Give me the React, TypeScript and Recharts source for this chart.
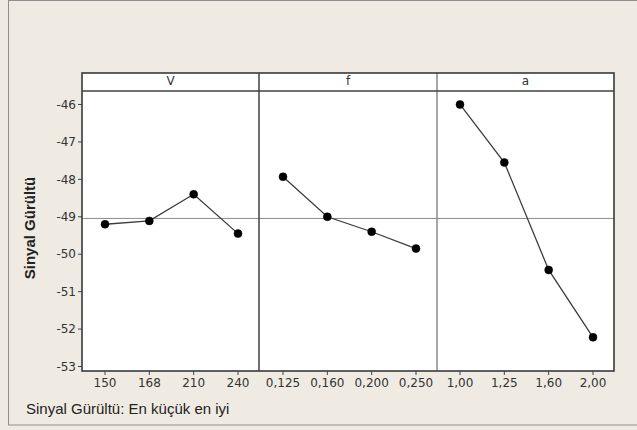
import React from 'react';
import { LineChart, Line, XAxis, YAxis, ReferenceLine } from 'recharts';

// Factor levels (tick labels) for each panel
const levelsV = ['150', '168', '210', '240'];
const levelsF = ['0,125', '0,160', '0,200', '0,250'];
const levelsA = ['1,00', '1,25', '1,60', '2,00'];

// Mean S/N ratio at each level
const snV = [-49.2, -49.11, -48.4, -49.45];
const snF = [-47.93, -49.0, -49.4, -49.85];
const snA = [-46.0, -47.55, -50.42, -52.22];

const factorNames = ['V', 'f', 'a'];
const yTicks = [-53, -52, -51, -50, -49, -48, -47, -46];
const yDomain: [number, number] = [-53.12, -45.64];

const allValues = [...snV, ...snF, ...snA];
const overallMean = allValues.reduce((s, v) => s + v, 0) / allValues.length;

const TICK_FONT = '"DejaVu Sans", Verdana, sans-serif';
const LABEL_FONT = '"Liberation Sans", Arial, sans-serif';

const PLOT_TOP = 91;
const PLOT_BOTTOM = 371;
const PANEL_X = [82, 259, 437, 614];

type PanelProps = {
  levels: string[];
  values: number[];
  index: number;
};

function Panel({ levels, values, index }: PanelProps) {
  const data = levels.map((level, i) => ({ level, sn: values[i] }));
  const showY = index === 0;
  const plotLeft = PANEL_X[index];
  const plotRight = PANEL_X[index + 1];
  const chartLeft = showY ? 0 : plotLeft;
  const width = plotRight - chartLeft;
  return (
    <div style={{ position: 'absolute', left: chartLeft, top: 0 }}>
      <LineChart
        width={width}
        height={430}
        data={data}
        margin={{ top: PLOT_TOP, right: 0, bottom: 29, left: showY ? 42 : 0 }}
      >
        <XAxis
          dataKey="level"
          type="category"
          height={30}
          padding={{ left: index === 1 ? 24 : 23, right: 21 }}
          axisLine={false}
          tickLine={{ stroke: '#444', strokeWidth: 1 }}
          tickSize={4}
          tickMargin={3}
          interval={0}
          tick={{ fill: '#333', fontSize: 12, fontFamily: TICK_FONT }}
        />
        <YAxis
          type="number"
          domain={yDomain}
          ticks={yTicks}
          allowDataOverflow
          hide={!showY}
          width={40}
          axisLine={false}
          tickLine={{ stroke: '#444', strokeWidth: 1 }}
          tickSize={4}
          tickMargin={2}
          tick={{ fill: '#333', fontSize: 12, fontFamily: TICK_FONT }}
        />
        <ReferenceLine y={overallMean} stroke="#8c8c8c" strokeWidth={1} />
        <Line
          type="linear"
          dataKey="sn"
          stroke="#3c3c3c"
          strokeWidth={1.3}
          dot={{ r: 4, fill: '#000', stroke: '#000', strokeWidth: 0.5 }}
          isAnimationActive={false}
        />
      </LineChart>
    </div>
  );
}

export default function App() {
  const panels = [
    { levels: levelsV, values: snV },
    { levels: levelsF, values: snF },
    { levels: levelsA, values: snA },
  ];
  return (
    <div
      style={{
        position: 'fixed',
        left: 0,
        top: 0,
        width: 637,
        height: 430,
        background: '#EFEBE2',
        overflow: 'hidden',
      }}
    >
      {/* plot background */}
      <svg width={637} height={430} style={{ position: 'absolute', left: 0, top: 0 }}>
        <rect x={PANEL_X[0]} y={73} width={PANEL_X[3] - PANEL_X[0]} height={PLOT_BOTTOM - 73} fill="#fff" />
      </svg>

      {panels.map((p, i) => (
        <Panel key={factorNames[i]} levels={p.levels} values={p.values} index={i} />
      ))}

      {/* frame, strips and titles */}
      <svg
        width={637}
        height={430}
        style={{ position: 'absolute', left: 0, top: 0, pointerEvents: 'none' }}
      >
        <rect x={8.5} y={0.5} width={640} height={424.5} fill="none" stroke="#8f8f8f" strokeWidth={1} />
        <line x1={PANEL_X[1]} y1={73} x2={PANEL_X[1]} y2={PLOT_BOTTOM} stroke="#404040" strokeWidth={1.5} />
        <line x1={PANEL_X[2]} y1={73} x2={PANEL_X[2]} y2={PLOT_BOTTOM} stroke="#8a8a8a" strokeWidth={1.5} />
        <line x1={PANEL_X[0]} y1={PLOT_TOP} x2={PANEL_X[3]} y2={PLOT_TOP} stroke="#404040" strokeWidth={1.3} />
        <rect
          x={PANEL_X[0]}
          y={73}
          width={PANEL_X[3] - PANEL_X[0]}
          height={PLOT_BOTTOM - 73}
          fill="none"
          stroke="#3a3a3a"
          strokeWidth={1.6}
        />
        {factorNames.map((name, i) => (
          <text
            key={name}
            x={(PANEL_X[i] + PANEL_X[i + 1]) / 2}
            y={85}
            textAnchor="middle"
            fontSize={12}
            fontFamily={TICK_FONT}
            fill="#333"
          >
            {name}
          </text>
        ))}
        <text
          x={0}
          y={0}
          transform="translate(35,228) rotate(-90)"
          textAnchor="middle"
          fontSize={15}
          fontWeight="bold"
          fontFamily={LABEL_FONT}
          fill="#222"
        >
          Sinyal Gürültü
        </text>
        <text x={26} y={414} fontSize={15} fontFamily={LABEL_FONT} fill="#222">
          Sinyal Gürültü: En küçük en iyi
        </text>
      </svg>
    </div>
  );
}
